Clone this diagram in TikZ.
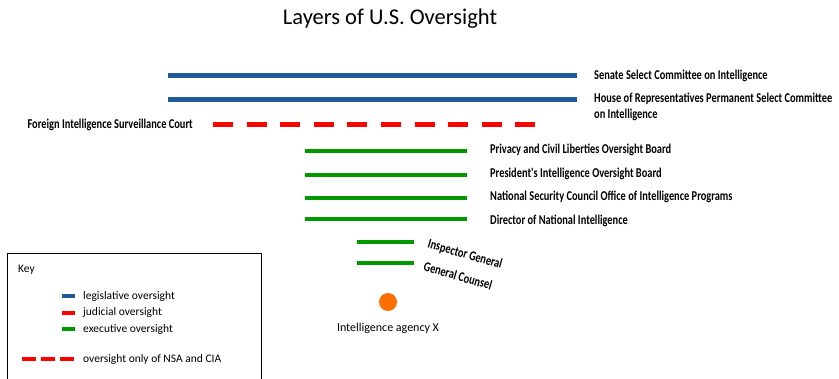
\documentclass[tikz,border=0pt]{standalone}
\usepackage{fontspec}
\setmainfont{Carlito}
\newfontfamily\labelfont[FakeStretch=0.77]{Carlito}
\usepackage{tikz}

\definecolor{legblue}{RGB}{31,90,150}
\definecolor{judred}{RGB}{255,0,0}
\definecolor{exgreen}{RGB}{0,153,0}
\definecolor{agorange}{RGB}{255,110,0}

\tikzset{
    legis/.style={draw=legblue, line width=5pt},
    judic/.style={draw=judred, line width=5pt},
    judicdash/.style={draw=judred, line width=5pt, dash pattern=on 20pt off 13.6pt},
    exec/.style={draw=exgreen, line width=4.5pt},
    body/.style={font=\labelfont\bfseries\fontsize{13.5}{15}\selectfont, inner sep=0pt, anchor=west, align=left},
    keytext/.style={font=\fontsize{11.5}{13}\selectfont, inner sep=0pt, anchor=west}
}

\begin{document}
\begin{tikzpicture}[x=1pt, y=-1pt]
    	
    	\useasboundingbox (0,0) rectangle (839,379);
    	
    	\node[font=\fontsize{22.5}{26}\selectfont, inner sep=0pt] (title) at (390, 19) {Layers of U.S. Oversight};
    	
    	% legislative
    	\draw[legis] (168, 76) -- (577, 76);
    	\draw[legis] (168, 100) -- (577, 100);
    	\node[body] (senate) at (594, 76) {Senate Select Committee on Intelligence};
    	\node[body, anchor=north west] (house) at (594, 93) {House of Representatives Permanent Select Committee\\[1pt]on Intelligence};
    	
    	% judicial
    	\draw[judicdash] (213, 125) -- (535, 125);
    	\node[body, anchor=east] (fisc) at (193, 125) {Foreign Intelligence Surveillance Court};
    	
    	% executive
    	\draw[exec] (305, 151) -- (467, 151);
    	\draw[exec] (305, 175) -- (467, 175);
    	\draw[exec] (305, 198) -- (467, 198);
    	\draw[exec] (305, 219) -- (467, 219);
    	\node[body] (pclob) at (490, 150) {Privacy and Civil Liberties Oversight Board};
    	\node[body] (piob) at (490, 174) {President's Intelligence Oversight Board};
    	\node[body] (nsc) at (490, 197) {National Security Council Office of Intelligence Programs};
    	\node[body] (dni) at (490, 221) {Director of National Intelligence};
    	
    	\draw[exec] (357, 242) -- (414, 242);
    	\draw[exec] (357, 263) -- (414, 263);
    	\node[body, rotate=-16] (ig) at (428, 244) {Inspector General};
    	\node[body, rotate=-16] (gc) at (424, 266) {General Counsel};
    	
    	% agency
    	\node[circle, fill=agorange, minimum size=18pt, inner sep=0pt] (agency) at (388, 302) {};
    	\node[font=\fontsize{12}{14}\selectfont, inner sep=0pt] (agencylabel) at (388, 328) {Intelligence agency X};
    	
    	% key
    	\draw[line width=0.8pt] (7, 379) -- (7, 253) -- (261, 253) -- (261, 379);
    	\node[keytext] (key) at (18, 270) {Key};
    	\draw[legis, line width=4pt] (62, 296) -- (75, 296);
    	\draw[judic, line width=4pt] (62, 313) -- (75, 313);
    	\draw[exec, line width=4pt] (62, 329) -- (75, 329);
    	\draw[judic, line width=4pt] (22, 359) -- (36, 359);
    	\draw[judic, line width=4pt] (41, 359) -- (55, 359);
    	\draw[judic, line width=4pt] (60, 359) -- (74, 359);
    	\node[keytext] (klegis) at (83, 296) {legislative oversight};
    	\node[keytext] (kjudic) at (83, 312) {judicial oversight};
    	\node[keytext] (kexec) at (83, 329) {executive oversight};
    	\node[keytext] (konly) at (83, 359) {oversight only of NSA and CIA};
    	
\end{tikzpicture}
\end{document}
